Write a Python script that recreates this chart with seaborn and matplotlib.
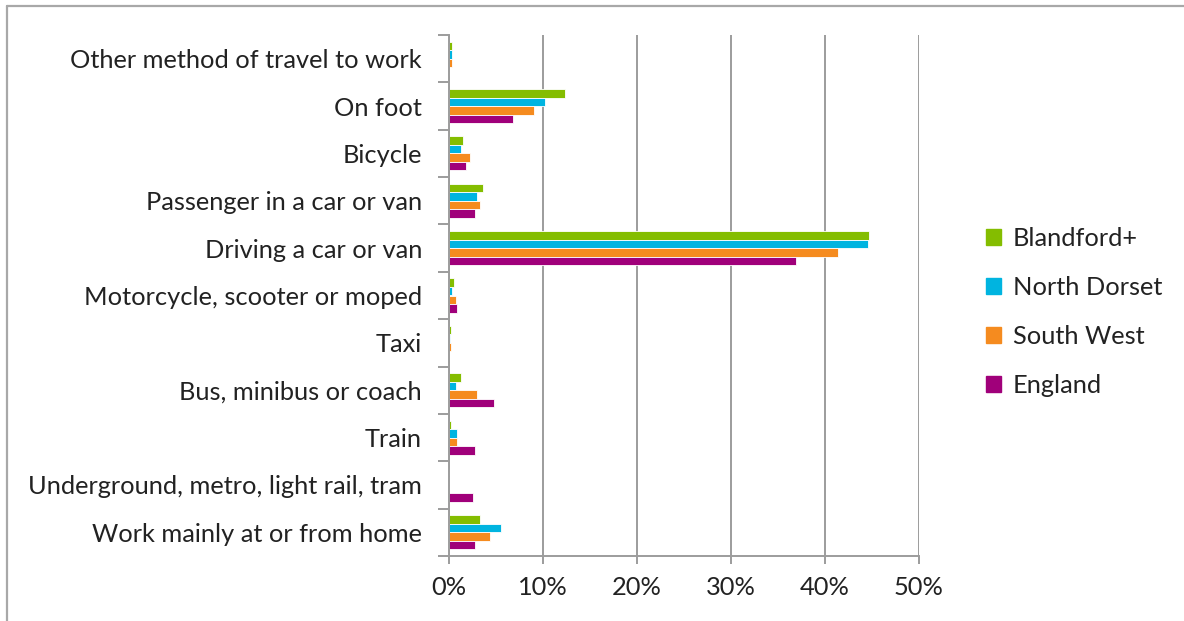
import matplotlib
matplotlib.use("Agg")
import matplotlib.pyplot as plt
import matplotlib.patches as mpatches
from matplotlib.ticker import FixedLocator, PercentFormatter
import seaborn as sns
import pandas as pd
import numpy as np

# ---------------------------------------------------------------------------
# Data (percent of working residents)
# ---------------------------------------------------------------------------
modes = [
    "Other method of travel to work",
    "On foot",
    "Bicycle",
    "Passenger in a car or van",
    "Driving a car or van",
    "Motorcycle, scooter or moped",
    "Taxi",
    "Bus, minibus or coach",
    "Train",
    "Underground, metro, light rail, tram",
    "Work mainly at or from home",
]
areas = ["Blandford+", "North Dorset", "South West", "England"]

blandford = [0.3, 12.3, 1.5, 3.6, 44.7, 0.5, 0.2, 1.3, 0.2, 0.0, 3.3]
north_dorset = [0.3, 10.2, 1.3, 3.0, 44.6, 0.3, 0.1, 0.7, 0.8, 0.0, 5.5]
south_west = [0.3, 9.0, 2.2, 3.3, 41.4, 0.7, 0.2, 3.0, 0.8, 0.0, 4.4]
england = [0.0, 6.8, 1.8, 2.8, 36.9, 0.9, 0.0, 4.8, 2.8, 2.5, 2.8]

colors = ["#84BD00", "#00B4E0", "#F58B1F", "#A0007A"]

df = pd.DataFrame({
    "Mode": modes * 4,
    "Area": np.repeat(areas, len(modes)),
    "Pct": blandford + north_dorset + south_west + england,
})

# ---------------------------------------------------------------------------
# Plot
# ---------------------------------------------------------------------------
sns.set_style("white")
plt.rcParams["font.family"] = ["Lato", "DejaVu Sans"]
FS = 18.3
TXT = "#222222"

W, H = 1184, 621
fig = plt.figure(figsize=(W / 100, H / 100), dpi=100)
ax = fig.add_axes([449 / W, 1 - 556 / H, (919 - 449) / W, (556 - 35) / H])

sns.barplot(data=df, x="Pct", y="Mode", hue="Area", order=modes,
            hue_order=areas, palette=colors, saturation=1, width=0.72,
            orient="h", edgecolor="white", linewidth=0.6, ax=ax, legend=False)

grid_col = "#9C9C9C"
ax.set_xlim(0, 50)
ax.set_ylim(len(modes) - 0.5, -0.5)
ax.xaxis.set_major_locator(FixedLocator([0, 10, 20, 30, 40, 50]))
ax.xaxis.set_major_formatter(PercentFormatter(decimals=0))
ax.grid(axis="x", color=grid_col, linewidth=1.4)
ax.set_axisbelow(True)
ax.set_xlabel("")
ax.set_ylabel("")

for side in ["top", "right"]:
    ax.spines[side].set_visible(False)
for side in ["left", "bottom"]:
    ax.spines[side].set_color(grid_col)
    ax.spines[side].set_linewidth(1.4)

# category boundary ticks on y, like a spreadsheet chart
ax.yaxis.set_minor_locator(FixedLocator(np.arange(-0.5, len(modes), 1.0)))
ax.tick_params(axis="y", which="minor", length=8, width=1.4, color=grid_col, left=True)
ax.tick_params(axis="y", which="major", length=0, pad=19.5, labelsize=FS,
               labelcolor=TXT)
ax.tick_params(axis="x", which="major", length=6, width=1.4, color=grid_col,
               bottom=True, pad=8.5, labelsize=FS, labelcolor=TXT)

handles = [mpatches.Patch(color=c, label=a) for c, a in zip(colors, areas)]
fig.legend(handles=handles, loc="center left", bbox_to_anchor=(963 / W, 1 - 312 / H),
           frameon=False, fontsize=FS, handlelength=0.6, handleheight=0.6,
           handletextpad=0.45, labelspacing=1.02, labelcolor=TXT)

# outer frame (only top and left edges show in the crop)
fig.add_artist(plt.Line2D([7 / W, 7 / W], [0, 1 - 6 / H], color="#A8A8A8", linewidth=1.6))
fig.add_artist(plt.Line2D([7 / W, 1], [1 - 6 / H, 1 - 6 / H], color="#A8A8A8", linewidth=1.6))

fig.savefig("out.png", dpi=100, facecolor="white")
